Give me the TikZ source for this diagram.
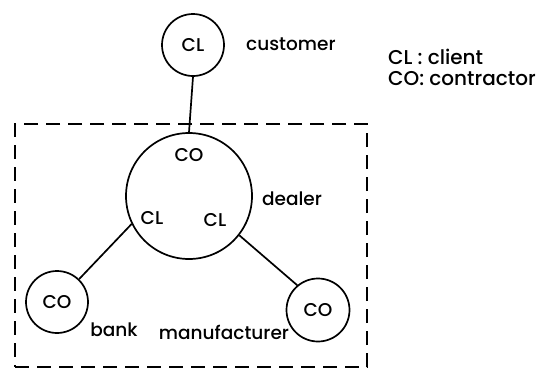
\documentclass[tikz,border=0pt]{standalone}
\usepackage{fontspec}
\setmainfont{Poppins}[UprightFont=* Medium]
\begin{document}
\begin{tikzpicture}[x=1pt,y=-1pt,
  role/.style={draw,circle,line width=1.7pt,inner sep=0pt},
  lbl/.style={font=\fontsize{18.5}{20}\selectfont,inner sep=0pt},
  leg/.style={font=\fontsize{20}{22}\selectfont,inner sep=0pt,anchor=base west},
  link/.style={line width=1.7pt},
  group/.style={line width=1.7pt,dash pattern=on 14pt off 8pt}]
\useasboundingbox (0,0) rectangle (539,373);
\node[role,minimum size=62pt] (cust) at (193,45) {};
\node[role,minimum size=126pt] (deal) at (189,196) {};
\node[role,minimum size=62pt] (bank) at (57,302) {};
\node[role,minimum size=63pt] (manu) at (318,310) {};
\node[lbl] (custCL) at (cust) {CL};
\node[lbl,anchor=west] (custT) at (246,44) {customer};
\node[leg] (leg1) at (388,64) {CL : client};
\node[leg] (leg2) at (388,85) {CO: contractor};
\node[lbl] (dealCO) at (189,155) {CO};
\node[lbl] (dealCL1) at (152,218) {CL};
\node[lbl] (dealCL2) at (215,220) {CL};
\node[lbl] (dealT) at (292,199) {dealer};
\node[lbl] (bankCO) at (bank) {CO};
\node[lbl] (manuCO) at (manu) {CO};
\node[lbl] (bankT) at (114,330) {bank};
\node[lbl] (manuT) at (224,332) {manufacturer};
\draw[link] (cust.south) -- (deal.north);
\draw[link] (bank.46) -- (deal.206);
\draw[link] (manu.130) -- (deal.-38);
\node[draw,group,minimum width=352pt,minimum height=243pt,inner sep=0pt] (box) at (191,245.5) {};
\end{tikzpicture}
\end{document}
